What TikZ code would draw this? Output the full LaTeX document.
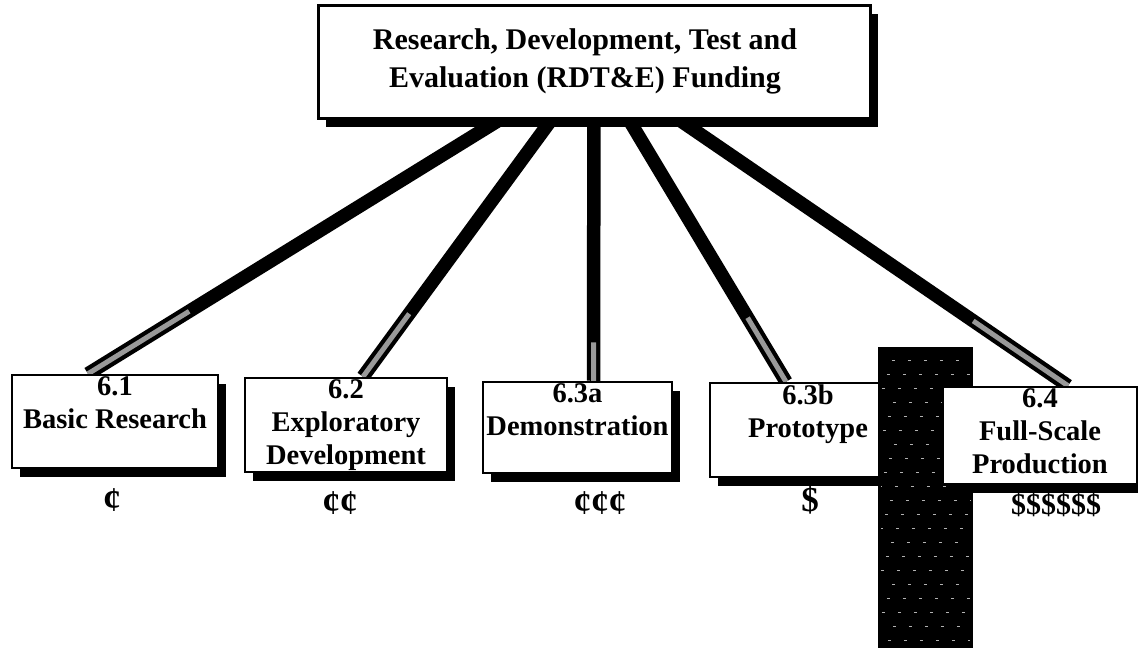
\documentclass[tikz,border=0pt]{standalone}
\usepackage{fontspec}
\setmainfont{Liberation Serif}
\usetikzlibrary{positioning,calc,shadows,backgrounds}
\tikzstyle{fundbox} = [rectangle, draw, line width=2.5pt, fill=white, inner sep=0pt,
    drop shadow={opacity=1, fill=black, shadow xshift=8pt, shadow yshift=-9pt}]
\tikzstyle{fundtext} = [align=center, inner sep=0pt,
    font=\bfseries\fontsize{28.5}{33}\selectfont]
\tikzstyle{cost} = [inner sep=0pt, font=\bfseries\fontsize{35}{36}\selectfont]
\tikzstyle{link} = [line width=13.5pt, black]
\tikzstyle{linkcore} = [line width=5pt, black!40]

\begin{document}
\begin{tikzpicture}[x=1pt,y=-1pt]
  \useasboundingbox (0,0) rectangle (1138,648);

  \node[fundbox, line width=3pt, minimum width=552pt, minimum height=113pt,
        align=center, font=\bfseries\fontsize{30}{38}\selectfont]
        (top) at (594,61.5) {\hspace*{-18pt}Research, Development, Test and\\
                             \hspace*{-18pt}Evaluation (RDT\&E) Funding};

  \node[fundbox, minimum width=206pt, minimum height=93pt] (b61) at (115,421.5) {};
  \node[fundtext, below=3pt of b61.north] (l61) {6.1\\Basic Research};

  \node[fundbox, minimum width=202pt, minimum height=94pt] (b62) at (346,425) {};
  \node[fundtext, below=3pt of b62.north] (l62) {6.2\\Exploratory\\Development};

  \node[fundbox, minimum width=189pt, minimum height=91pt] (b63a) at (577.5,427.5) {};
  \node[fundtext, below=3pt of b63a.north] (l63a) {6.3a\\Demonstration};

  \node[fundbox, minimum width=196pt, minimum height=94pt] (b63b) at (808,430) {};
  \node[fundtext, below=3pt of b63b.north] (l63b) {6.3b\\Prototype};

  % dark bar over the prototype box
  \node[fill=black, inner sep=0pt, minimum width=95pt, minimum height=301pt] (bar) at (925.5,497.5) {};
  \foreach \k in {1,...,21}
    \draw[black!30, line width=0.8pt, dash pattern=on 3pt off 13pt, dash phase=\k*5pt]
      ([yshift=-\k*14pt, xshift=3pt]bar.north west) -- ([yshift=-\k*14pt, xshift=-3pt]bar.north east);

  \node[fundbox, minimum width=194pt, minimum height=97pt] (b64) at (1040,435.5) {};
  \node[fundtext, below=3pt of b64.north] (l64) {6.4\\Full-Scale\\Production};

  \node[cost] (c61)  at (112,500)  {¢};
  \node[cost] (c62)  at (340,503)  {¢¢};
  \node[cost] (c63a) at (600,503)  {¢¢¢};
  \node[cost] (c63b) at (810,500)  {\$};
  \node[cost, font=\bfseries\fontsize{30}{32}\selectfont] (c64) at (1056,505) {\$\$\$\$\$\$};

  \coordinate (e61)  at ($(b61.north)+(-27,0)$);
  \coordinate (e62)  at ($(b62.north)+(17,0)$);
  \coordinate (e63a) at ($(b63a.north)+(16,0)$);
  \coordinate (e63b) at ($(b63b.north)+(-22,0)$);
  \coordinate (e64)  at ($(b64.north)+(28,0)$);

  \begin{scope}[on background layer]
    \draw[link] (top.center) -- (e61);
    \draw[link] (top.center) -- (e62);
    \draw[link] (top.center) -- (e63a);
    \draw[link] (top.center) -- (e63b);
    \draw[link] (top.center) -- (e64);
    \draw[linkcore] ($(top.center)!.8!(e61)$) -- (e61);
    \draw[linkcore] ($(top.center)!.8!(e62)$) -- (e62);
    \draw[linkcore] ($(top.center)!.88!(e63a)$) -- (e63a);
    \draw[linkcore] ($(top.center)!.8!(e63b)$) -- (e63b);
    \draw[linkcore] ($(top.center)!.8!(e64)$) -- (e64);
  \end{scope}
\end{tikzpicture}
\end{document}
